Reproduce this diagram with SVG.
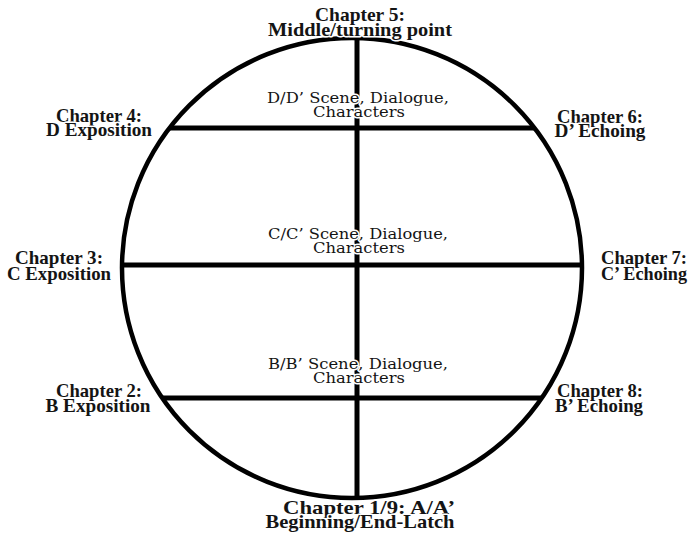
<svg xmlns="http://www.w3.org/2000/svg" width="690" height="533" viewBox="0 0 690 533">
<style>
.bg{fill:#fff}
.ring{fill:none;stroke:#000;stroke-width:4.5}
.ln{stroke:#000;stroke-width:5;stroke-linecap:butt}
text{fill:#141414;text-anchor:middle;stroke:#fff;stroke-width:3;paint-order:stroke;stroke-linejoin:round}
.ch{font-family:"Liberation Serif","Times New Roman",serif;font-weight:bold;font-size:19px}
.sc{font-family:"DejaVu Serif","Liberation Serif",serif;font-size:15.5px}
</style>
<rect class="bg" x="0" y="0" width="690" height="533"/>
<g id="circle"><circle class="ring" cx="352" cy="268" r="230"/></g>
<g id="connectors">
<line class="ln" x1="357" y1="39" x2="357" y2="497"/>
<line class="ln" x1="170" y1="128" x2="534" y2="128"/>
<line class="ln" x1="122" y1="265" x2="582" y2="265"/>
<line class="ln" x1="163" y1="398" x2="542" y2="398"/>
</g>
<g id="ch5"><text class="ch" x="360" y="21" textLength="90" lengthAdjust="spacingAndGlyphs">Chapter 5:</text><text class="ch" x="360" y="35.5" textLength="184" lengthAdjust="spacingAndGlyphs">Middle/turning point</text></g>
<g id="ch4"><text class="ch" x="99" y="121.5" textLength="86" lengthAdjust="spacingAndGlyphs">Chapter 4:</text><text class="ch" x="99" y="136" textLength="106" lengthAdjust="spacingAndGlyphs">D Exposition</text></g>
<g id="ch6"><text class="ch" x="600" y="122.5" textLength="86" lengthAdjust="spacingAndGlyphs">Chapter 6:</text><text class="ch" x="600" y="137" textLength="91" lengthAdjust="spacingAndGlyphs">D’ Echoing</text></g>
<g id="ch3"><text class="ch" x="59" y="264" textLength="88" lengthAdjust="spacingAndGlyphs">Chapter 3:</text><text class="ch" x="59" y="279.5" textLength="104" lengthAdjust="spacingAndGlyphs">C Exposition</text></g>
<g id="ch7"><text class="ch" x="644" y="264" textLength="86" lengthAdjust="spacingAndGlyphs">Chapter 7:</text><text class="ch" x="644" y="279.5" textLength="86" lengthAdjust="spacingAndGlyphs">C’ Echoing</text></g>
<g id="ch2"><text class="ch" x="99" y="396.5" textLength="86" lengthAdjust="spacingAndGlyphs">Chapter 2:</text><text class="ch" x="98" y="411.5" textLength="105" lengthAdjust="spacingAndGlyphs">B Exposition</text></g>
<g id="ch8"><text class="ch" x="600" y="396.5" textLength="86" lengthAdjust="spacingAndGlyphs">Chapter 8:</text><text class="ch" x="599" y="411.5" textLength="88" lengthAdjust="spacingAndGlyphs">B’ Echoing</text></g>
<g id="ch1"><text class="ch" x="369" y="513.5" textLength="172" lengthAdjust="spacingAndGlyphs">Chapter 1/9: A/A’</text><text class="ch" x="360" y="528" textLength="189" lengthAdjust="spacingAndGlyphs">Beginning/End-Latch</text></g>
<g id="sceneD"><text class="sc" x="358" y="103" textLength="182" lengthAdjust="spacingAndGlyphs">D/D’ Scene, Dialogue,</text><text class="sc" x="359" y="117" textLength="92" lengthAdjust="spacingAndGlyphs">Characters</text></g>
<g id="sceneC"><text class="sc" x="358" y="239" textLength="180" lengthAdjust="spacingAndGlyphs">C/C’ Scene, Dialogue,</text><text class="sc" x="359" y="252.5" textLength="92" lengthAdjust="spacingAndGlyphs">Characters</text></g>
<g id="sceneB"><text class="sc" x="358" y="368.5" textLength="180" lengthAdjust="spacingAndGlyphs">B/B’ Scene, Dialogue,</text><text class="sc" x="359" y="382.5" textLength="92" lengthAdjust="spacingAndGlyphs">Characters</text></g>
</svg>
